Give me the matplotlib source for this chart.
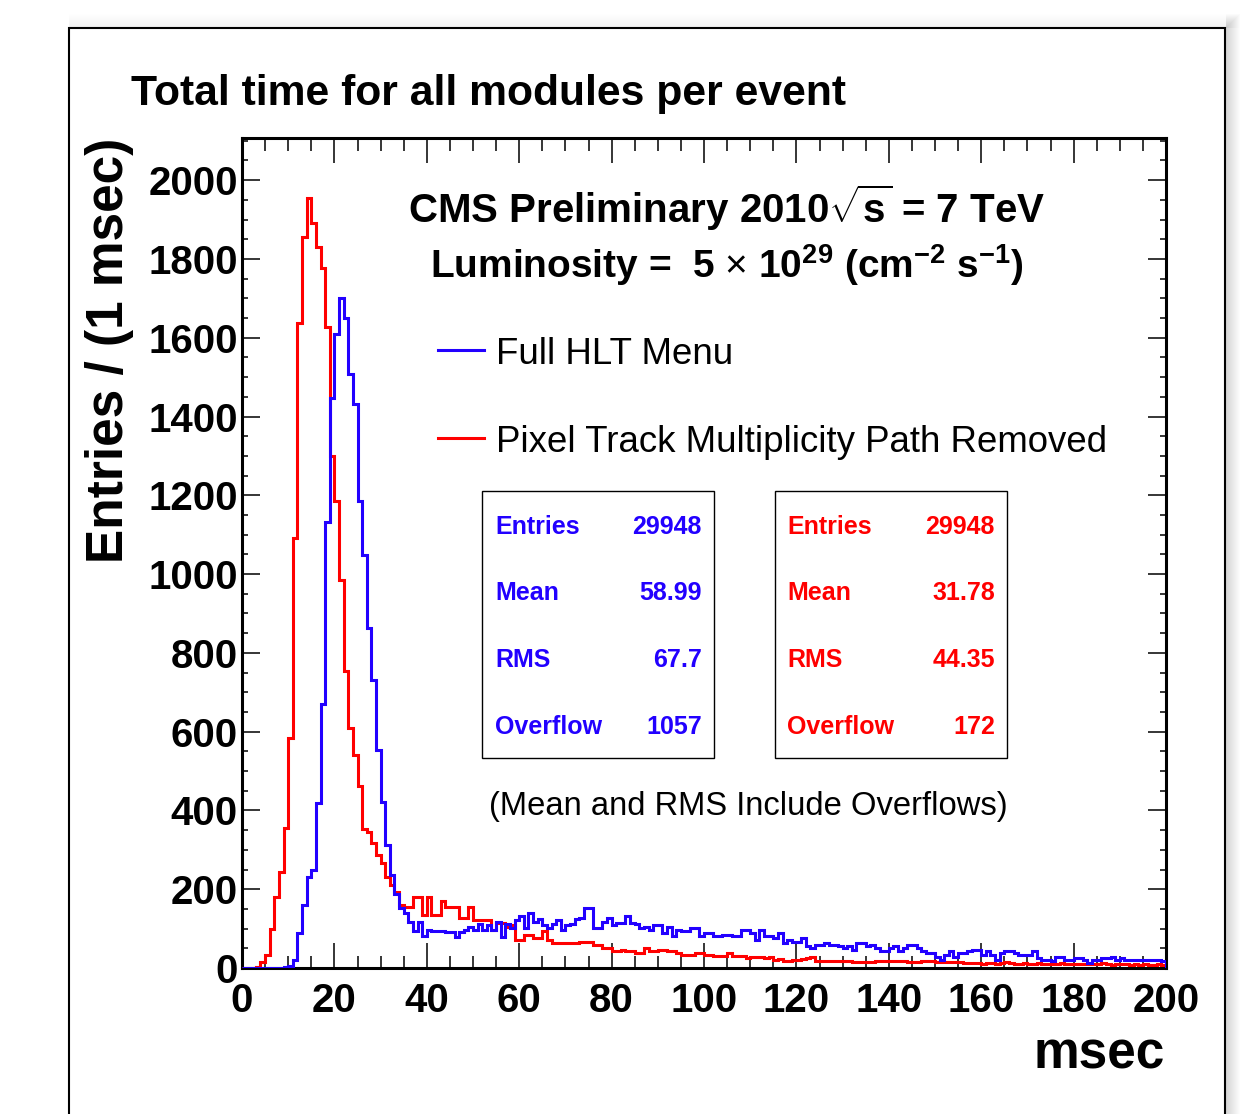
import numpy as np
import matplotlib
matplotlib.use("Agg")
import matplotlib.pyplot as plt
from matplotlib.patches import Rectangle

plt.rcParams['font.family'] = ['Liberation Sans', 'DejaVu Sans']
plt.rcParams['mathtext.fontset'] = 'custom'
plt.rcParams['mathtext.rm'] = 'Liberation Sans'
plt.rcParams['mathtext.bf'] = 'Liberation Sans:bold'
plt.rcParams['mathtext.it'] = 'Liberation Sans:italic'

# 1 msec bins, 0..200
edges = np.arange(0, 201, 1)

# Full HLT menu (blue)
full_hlt = [
    0, 0, 0, 0, 0, 0, 0, 0, 0, 2,
    5, 20, 88, 160, 230, 250, 420, 670, 1131, 1447,
    1609, 1702, 1651, 1508, 1432, 1186, 1048, 863, 730, 553,
    421, 312, 236, 187, 152, 139, 118, 95, 116, 80,
    97, 95, 93, 93, 91, 91, 78, 92, 97, 105,
    97, 112, 97, 108, 97, 118, 78, 112, 101, 122,
    131, 101, 139, 118, 125, 110, 101, 112, 122, 97,
    110, 112, 125, 127, 152, 152, 101, 101, 118, 127,
    110, 115, 115, 131, 114, 112, 101, 105, 97, 110,
    110, 89, 105, 80, 97, 93, 93, 101, 101, 80,
    89, 89, 80, 80, 84, 84, 80, 80, 97, 97,
    89, 72, 97, 80, 80, 76, 88, 63, 71, 67,
    67, 76, 55, 50, 59, 59, 63, 59, 59, 55,
    50, 55, 46, 63, 63, 55, 59, 50, 44, 44,
    50, 55, 42, 50, 59, 59, 50, 42, 38, 38,
    29, 21, 33, 42, 29, 38, 38, 42, 46, 46,
    33, 42, 33, 21, 38, 42, 42, 38, 33, 33,
    33, 42, 25, 21, 21, 17, 29, 29, 21, 21,
    25, 25, 21, 12, 21, 21, 25, 25, 29, 21,
    25, 21, 21, 21, 21, 21, 21, 21, 21, 17,
]

# Pixel track multiplicity path removed (red)
no_pixel = [
    0, 0, 0, 3, 15, 32, 98, 181, 243, 356,
    585, 1092, 1638, 1855, 1955, 1890, 1831, 1776, 1626, 1299,
    1186, 986, 753, 609, 540, 461, 352, 345, 318, 288,
    266, 232, 210, 192, 160, 156, 156, 179, 179, 135,
    179, 135, 135, 169, 156, 156, 156, 127, 127, 156,
    122, 122, 122, 122, 97, 114, 114, 105, 110, 72,
    72, 84, 84, 76, 76, 93, 72, 64, 64, 64,
    63, 63, 63, 67, 67, 67, 59, 59, 51, 51,
    42, 42, 46, 42, 42, 38, 38, 51, 42, 42,
    46, 46, 42, 42, 38, 34, 34, 34, 38, 38,
    34, 34, 30, 30, 30, 38, 30, 30, 30, 25,
    27, 29, 29, 25, 27, 21, 22, 19, 19, 21,
    21, 23, 25, 27, 19, 19, 18, 18, 17, 17,
    18, 18, 15, 15, 15, 15, 15, 18, 18, 18,
    17, 17, 18, 18, 15, 15, 15, 18, 18, 18,
    14, 14, 14, 14, 14, 14, 12, 12, 13, 12,
    11, 12, 12, 10, 13, 14, 12, 11, 11, 12,
    10, 10, 12, 11, 10, 9, 11, 12, 10, 9,
    9, 11, 10, 9, 9, 10, 12, 9, 8, 9,
    10, 9, 8, 9, 8, 9, 8, 8, 9, 8,
]

stat_labels = ['Entries', 'Mean', 'RMS', 'Overflow']
stats_full = ['29948', '58.99', '67.7', '1057']
stats_nopix = ['29948', '31.78', '44.35', '172']

BLUE = '#2200ff'
RED = '#ff0000'

W, H = 1244, 1114
fig = plt.figure(figsize=(W / 100, H / 100), dpi=100)
fig.patch.set_facecolor('white')

# soft shadow right of and above the canvas frame
for k in range(1, 15):
    fig.patches.append(Rectangle((1226 / W, 0), k / W, 1 - (28 - k) / H,
                                 transform=fig.transFigure,
                                 facecolor='black', edgecolor='none', alpha=0.011, zorder=-3))
    fig.patches.append(Rectangle((69 / W, 1 - 28 / H), (1226 - 69 + k) / W, k / H,
                                 transform=fig.transFigure,
                                 facecolor='black', edgecolor='none', alpha=0.005, zorder=-3))
fig.patches.append(Rectangle((69 / W, -0.02), (1225 - 69) / W, 1.02 - 28 / H,
                             transform=fig.transFigure, facecolor='white',
                             edgecolor='black', lw=1.5, zorder=-1))

ax = fig.add_axes([242 / W, 1 - 968 / H, (1166 - 242) / W, (968 - 138) / H])
ax.set_facecolor('none')

ax.stairs(no_pixel, edges, color=RED, lw=2.2, zorder=3)
ax.stairs(full_hlt, edges, color=BLUE, lw=2.2, zorder=4)

ax.set_xlim(0, 200)
ax.set_ylim(0, 2107)
ax.set_xticks(np.arange(0, 201, 20))
ax.set_xticks(np.arange(0, 201, 5), minor=True)
ax.set_yticks(np.arange(0, 2001, 200))
ax.set_yticks(np.arange(0, 2101, 50), minor=True)
ax.tick_params(which='both', direction='in', top=True, right=True, width=1.1)
ax.tick_params(axis='x', which='major', length=18, pad=10)
ax.tick_params(axis='x', which='minor', length=9)
ax.tick_params(axis='y', which='major', length=13, pad=3)
ax.tick_params(axis='y', which='minor', length=4.5)
for lab in ax.get_xticklabels() + ax.get_yticklabels():
    lab.set_fontsize(29)
    lab.set_fontweight('bold')
for sp in ax.spines.values():
    sp.set_linewidth(2.2)

# header texts
ax.text(0.524, 0.9157, r'CMS Preliminary 2010$\sqrt{\mathbf{s}}$ = 7 TeV',
        transform=ax.transAxes, ha='center', va='center', fontsize=29, fontweight='bold')
ax.text(0.525, 0.847,
        r'Luminosity =  5 $\times$ 10$^{\mathbf{29}}$ (cm$^{\mathbf{-2}}$ s$^{\mathbf{-1}}$)',
        transform=ax.transAxes, ha='center', va='center', fontsize=28, fontweight='bold')

# legend
for yy, col, txt in [(0.7446, BLUE, 'Full HLT Menu'),
                     (0.6386, RED, 'Pixel Track Multiplicity Path Removed')]:
    ax.plot([0.2121, 0.2619], [yy, yy], color=col, lw=2.2, transform=ax.transAxes)
    ax.text(0.2749, yy - 0.005, txt, transform=ax.transAxes, ha='left', va='center',
            fontsize=26.4)

# stats boxes
row_y = [0.5317, 0.4522, 0.3715, 0.2908]
for x0, x1, xl, xr, col, vals in [(0.2597, 0.5108, 0.2738, 0.4978, BLUE, stats_full),
                                  (0.5768, 0.8279, 0.5898, 0.8149, RED, stats_nopix)]:
    ax.add_patch(Rectangle((x0, 0.2530), x1 - x0, 0.5747 - 0.2530, transform=ax.transAxes,
                           facecolor='white', edgecolor='black', lw=1.0, zorder=2))
    for yy, lab, v in zip(row_y, stat_labels, vals):
        ax.text(xl, yy, lab, transform=ax.transAxes, ha='left', va='center',
                fontsize=18, fontweight='bold', color=col)
        ax.text(xr, yy, v, transform=ax.transAxes, ha='right', va='center',
                fontsize=18, fontweight='bold', color=col)

ax.text(0.5476, 0.1946, '(Mean and RMS Include Overflows)', transform=ax.transAxes,
        ha='center', va='center', fontsize=23.6)

fig.text(131 / W, 1 - 94 / H, 'Total time for all modules per event',
         ha='left', va='center', fontsize=30.7, fontweight='bold')
fig.text(110 / W, 1 - 138 / H, 'Entries / (1 msec)', rotation=90,
         ha='center', va='top', fontsize=37, fontweight='bold')
fig.text(1165 / W, 1 - 1055 / H, 'msec', ha='right', va='center',
         fontsize=37, fontweight='bold')

fig.savefig('out.png', dpi=100)
